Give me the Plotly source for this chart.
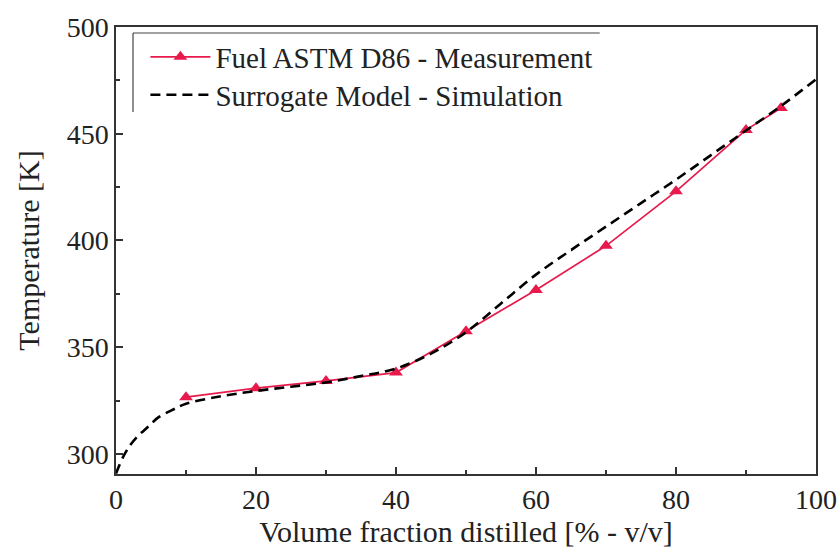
import plotly.graph_objects as go

# Measurement data (ASTM D86)
meas_x = [10, 20, 30, 40, 50, 60, 70, 80, 90, 95]
meas_y = [326.6, 330.8, 334.2, 338.1, 357.5, 376.8, 397.5, 423.0, 451.8, 462.0]

# Surrogate model simulation curve
sim_x = [0, 1, 2, 3, 4, 5, 6, 8, 10, 15, 20, 25, 30, 35, 40, 45, 50, 55, 60,
         65, 70, 75, 80, 85, 90, 95, 100]
sim_y = [290.8, 298.5, 304.0, 308.0, 311.0, 314.0, 317.0, 320.5, 323.5, 327.0,
         329.5, 331.5, 333.5, 336.5, 340.0, 347.0, 357.0, 370.5, 384.0, 395.5,
         406.5, 417.5, 428.5, 440.0, 451.5, 463.0, 475.5]

x_ticks = [0, 20, 40, 60, 80, 100]
y_ticks = [300, 350, 400, 450, 500]

FONT = "Liberation Serif"
RED = "#E8194B"

fig = go.Figure()
fig.add_trace(go.Scatter(
    x=meas_x, y=meas_y, mode="lines+markers",
    name="Fuel ASTM D86 - Measurement",
    line=dict(color=RED, width=1.7),
    marker=dict(symbol="triangle-up", size=12, color=RED),
    legend="legend",
))
fig.add_trace(go.Scatter(
    x=sim_x, y=sim_y, mode="lines", line_shape="spline",
    name="Surrogate Model - Simulation",
    line=dict(color="black", width=2.6, dash="10px,6px"),
    legend="legend2",
))

axis_common = dict(
    showgrid=False, zeroline=False, showline=True, linecolor="#333",
    linewidth=1.5, mirror=True, ticks="inside", ticklen=7, tickwidth=1.5,
    tickcolor="#333", tickfont=dict(family=FONT, size=28, color="#222"),
    automargin=False,
)

legend_common = dict(
    x=0.042, xanchor="left", yanchor="middle",
    bgcolor="rgba(0,0,0,0)", itemwidth=60,
    font=dict(family=FONT, size=29, color="#222"),
)

fig.update_layout(
    width=838, height=549,
    margin=dict(l=116, r=22, t=27, b=75),
    plot_bgcolor="white", paper_bgcolor="white",
    font=dict(family=FONT, color="#222"),
    xaxis=dict(range=[0, 100], tickvals=x_ticks,
               minor=dict(dtick=10, ticks="inside", ticklen=4, tickcolor="#333"),
               title=dict(text="Volume fraction distilled [% - v/v]",
                          font=dict(family=FONT, size=30), standoff=4),
               **axis_common),
    yaxis=dict(range=[290.6, 500], tickvals=y_ticks,
               minor=dict(dtick=25, ticks="inside", ticklen=4, tickcolor="#333"),
               title=dict(text="Temperature [K]",
                          font=dict(family=FONT, size=30), standoff=18),
               **axis_common),
    legend=dict(y=0.933, **legend_common),
    legend2=dict(y=0.848, **legend_common),
    showlegend=True,
)

# Partial legend frame (left and top edges)
fig.add_shape(type="line", xref="paper", yref="paper",
              x0=0.0243, x1=0.0243, y0=0.81, y1=0.9866,
              line=dict(color="#444", width=1.2))
fig.add_shape(type="line", xref="paper", yref="paper",
              x0=0.0243, x1=0.691, y0=0.9866, y1=0.9866,
              line=dict(color="#444", width=1.2))

fig.write_html("out.html")
